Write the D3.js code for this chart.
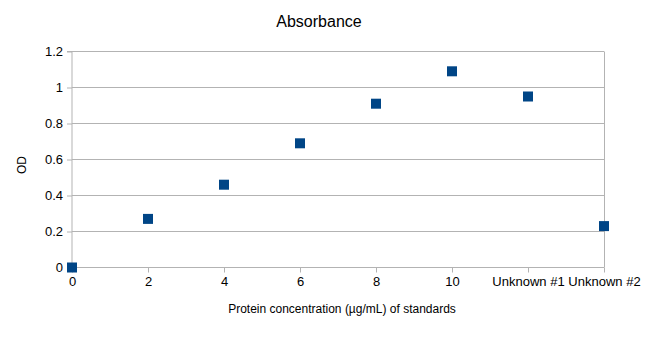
<!DOCTYPE html>
<html><head><meta charset="utf-8">
<script src="https://cdn.jsdelivr.net/npm/d3@7"></script>
<style>body{margin:0;background:#fff}svg{display:block}</style>
</head><body>
<svg id="c" width="672" height="356"></svg>
<script>
const categories = ["0","2","4","6","8","10","Unknown #1","Unknown #2"];
const odValues = [0, 0.27, 0.46, 0.69, 0.91, 1.09, 0.95, 0.23];
const yTicks = [0, 0.2, 0.4, 0.6, 0.8, 1, 1.2];
const titleText = "Absorbance";
const xTitle = "Protein concentration (µg/mL) of standards";
const yTitle = "OD";

const svg = d3.select("#c");
const font = "'Liberation Sans', Arial, sans-serif";
const L = 72, R = 604, T = 51.5, B = 267.5;
const x = d3.scalePoint().domain(categories).range([L, R]);
const y = d3.scaleLinear().domain([0, 1.2]).range([B, T]);

// gridlines
svg.append("g").selectAll("line").data(yTicks).join("line")
  .attr("x1", L).attr("x2", R).attr("y1", d => y(d)).attr("y2", d => y(d))
  .attr("stroke", "#b3b3b3").attr("stroke-width", 1);

// y axis
const ya = svg.append("g").attr("transform", `translate(${L},0)`)
  .call(d3.axisLeft(y).tickValues(yTicks).tickSize(5).tickPadding(4).tickFormat(d => String(d)));
ya.select(".domain").attr("stroke", "#b3b3b3").attr("d", `M-5,${T}H0V${B}`);
ya.selectAll(".tick line").attr("stroke", "#b3b3b3");
ya.selectAll("text").attr("font-family", font).attr("font-size", 13).attr("fill", "#000");

// x axis
const xa = svg.append("g").attr("transform", `translate(0,${B})`)
  .call(d3.axisBottom(x).tickSize(5).tickPadding(4));
xa.select(".domain").attr("stroke", "#b3b3b3").attr("d", `M${L},0H${R}`);
xa.selectAll(".tick line").attr("stroke", "#b3b3b3");
xa.selectAll("text").attr("font-family", font).attr("font-size", 13).attr("fill", "#000");

// right border
svg.append("line").attr("x1", R + 0.5).attr("x2", R + 0.5).attr("y1", T).attr("y2", B)
  .attr("stroke", "#b3b3b3");

// markers
const s = 10;
svg.append("g").selectAll("rect").data(categories).join("rect")
  .attr("x", d => x(d) - s / 2).attr("y", (d, i) => y(odValues[i]) - s / 2)
  .attr("width", s).attr("height", s).attr("fill", "#004586");

// titles
svg.append("text").attr("x", 319).attr("y", 27).attr("text-anchor", "middle")
  .attr("font-family", font).attr("font-size", 16).attr("fill", "#000").text(titleText);
svg.append("text").attr("x", 342).attr("y", 313).attr("text-anchor", "middle")
  .attr("font-family", font).attr("font-size", 12).attr("fill", "#000").text(xTitle);
svg.append("text").attr("transform", "translate(26,165) rotate(-90)").attr("text-anchor", "middle")
  .attr("font-family", font).attr("font-size", 12).attr("fill", "#000").text(yTitle);
</script>
</body></html>
